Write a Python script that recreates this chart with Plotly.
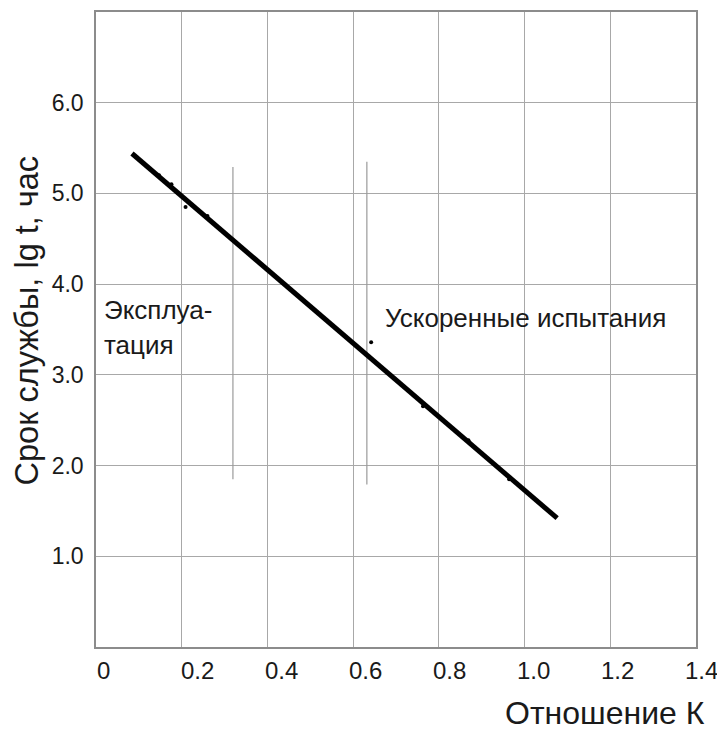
import plotly.graph_objects as go

# ---- data ----
k_fit = [0.084, 1.076]
lg_fit = [5.44, 1.42]

k_points = [0.147, 0.176, 0.209, 0.260, 0.642, 0.763, 0.869, 0.964]
lg_points = [5.20, 5.10, 4.85, 4.75, 3.36, 2.655, 2.28, 1.85]

# boundary markers (vertical thin lines)
k_bounds = [0.3195, 0.632]
lg_bound_top = [5.29, 5.35]
lg_bound_bottom = [1.85, 1.79]

x_tick_vals = [0, 0.2, 0.4, 0.6, 0.8, 1.0, 1.2, 1.4]
x_tick_text = ["0", "0.2", "0.4", "0.6", "0.8", "1.0", "1.2", "1.4"]
y_tick_vals = [1, 2, 3, 4, 5, 6]
y_tick_text = ["1.0", "2.0", "3.0", "4.0", "5.0", "6.0"]

FONT = "Liberation Sans, Arial, sans-serif"
TXT = "#1a1a1a"
GRID = "#a8a8a8"

fig = go.Figure()

# boundary lines
for kb, top, bot in zip(k_bounds, lg_bound_top, lg_bound_bottom):
    fig.add_trace(go.Scatter(x=[kb, kb], y=[bot, top], mode="lines",
                             line=dict(color="#9a9a9a", width=1.2),
                             showlegend=False, hoverinfo="skip"))

# regression line
fig.add_trace(go.Scatter(x=k_fit, y=lg_fit, mode="lines",
                         line=dict(color="black", width=5),
                         showlegend=False))

# data points
fig.add_trace(go.Scatter(x=k_points, y=lg_points, mode="markers",
                         marker=dict(color="black", size=4),
                         showlegend=False))

fig.update_xaxes(range=[0, 1.4], dtick=0.2, tick0=0, showticklabels=False,
                 showgrid=True, gridcolor=GRID, gridwidth=1.3,
                 showline=True, linecolor="#8c8c8c", linewidth=1.5, mirror=True,
                 zeroline=False, ticks="")
fig.update_yaxes(range=[0, 7], tickvals=y_tick_vals, ticktext=y_tick_text,
                 showgrid=True, gridcolor=GRID, gridwidth=1.3,
                 showline=True, linecolor="#8c8c8c", linewidth=1.5, mirror=True,
                 zeroline=False, ticks="", ticklabelstandoff=6,
                 tickfont=dict(family=FONT, size=23, color=TXT))

annotations = []
for v, t in zip(x_tick_vals, x_tick_text):
    # labels in the original drift slightly left of their grid lines
    annotations.append(dict(x=v, y=0, xref="x", yref="paper", text=t,
                            showarrow=False, xanchor="left", yanchor="middle",
                            xshift=-1 - 8.6 * v, yshift=-23,
                            font=dict(family=FONT, size=24, color=TXT)))

annotations += [
    dict(x=1, y=0, xref="paper", yref="paper", text="Отношение К",
         showarrow=False, xanchor="right", yanchor="middle", xshift=11, yshift=-66,
         font=dict(family=FONT, size=32, color=TXT)),
    dict(x=0, y=3.6, xref="paper", yref="y", text="Срок службы, lg t, час",
         showarrow=False, textangle=-90, xanchor="center", yanchor="middle",
         xshift=-69, font=dict(family=FONT, size=32.5, color=TXT)),
    dict(x=0.014, y=3.717, xref="x", yref="y", text="Эксплуа-",
         showarrow=False, xanchor="left", yanchor="middle",
         font=dict(family=FONT, size=26, color=TXT)),
    dict(x=0.014, y=3.334, xref="x", yref="y", text="тация",
         showarrow=False, xanchor="left", yanchor="middle",
         font=dict(family=FONT, size=26, color=TXT)),
    dict(x=0.669, y=3.622, xref="x", yref="y", text="Ускоренные испытания",
         showarrow=False, xanchor="left", yanchor="middle",
         font=dict(family=FONT, size=26, color=TXT)),
]

fig.update_layout(width=717, height=731,
                  margin=dict(l=96, r=21, t=10, b=84),
                  plot_bgcolor="white", paper_bgcolor="white",
                  annotations=annotations,
                  font=dict(family=FONT, color=TXT))

fig.write_html("out.html", config={"displayModeBar": False},
               post_script="document.body.style.margin='0';document.body.style.overflow='hidden';")
